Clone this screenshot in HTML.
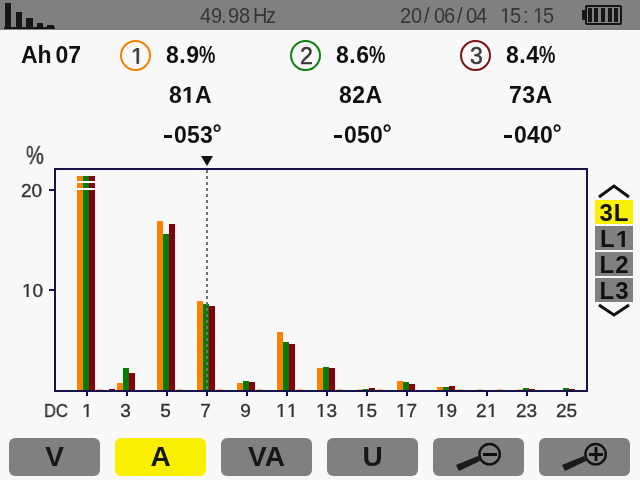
<!DOCTYPE html>
<html><head><meta charset="utf-8">
<style>
html,body{margin:0;padding:0;}
body{width:640px;height:480px;overflow:hidden;background:#f8f8f8;position:relative;font-family:"Liberation Sans",sans-serif;}
div{position:absolute;}
span{position:relative;}
.dg{top:-2px;left:-0.5px;}
.t{white-space:nowrap;line-height:1;will-change:transform;}
#top{left:0;top:0;width:640px;height:30px;background:#808080;}
.o1{display:inline-block;width:.556em;height:.688em;fill:currentColor;vertical-align:baseline;}
.cn .o1{stroke:#383838;stroke-width:45;}
.pc{display:inline-block;transform:scaleX(.8);transform-origin:0 0;}
.ib{background:#161616;}
.hz{font-size:20px;color:#363636;top:6px;transform:scaleY(1.07);transform-origin:0 17px;}
.bold{font-weight:bold;color:#111;}
.big{font-size:23px;letter-spacing:.5px;}
.circ{width:27px;height:27px;border-radius:50%;border:2.6px solid;top:40px;}
.cn{font-size:23px;color:#383838;top:45px;-webkit-text-stroke:.5px #383838;}
#frame{left:54px;top:168px;width:530px;height:220px;border:2px solid #16124a;background:#f8f8f8;}
.b{width:6px;}
.tk{width:2px;height:5px;top:391px;background:#16124a;margin-left:0;}
.xl{width:42px;text-align:center;top:400px;font-size:19px;color:#333;-webkit-text-stroke:.35px #333;}
.xl .o1,.yl .o1{stroke:#333;stroke-width:38;}
.yl{font-size:19px;color:#333;-webkit-text-stroke:.35px #333;}
.ytk{left:49px;width:5px;height:2px;background:#16124a;}
.side{left:595px;width:38px;height:24px;background:#808080;}
.st{font-size:24px;font-weight:bold;color:#111;width:38px;text-align:center;top:1px;letter-spacing:1px;text-indent:1px;}
.btn{top:438px;width:91px;height:38px;border-radius:6px;background:#808080;}
.bt{font-size:28px;font-weight:bold;color:#161616;width:91px;text-align:center;top:5px;}
</style></head><body>
<div id="top">
  <div class="ib" style="left:5px;top:3px;width:6px;height:25px"></div>
  <div class="ib" style="left:16px;top:12px;width:6px;height:16px"></div>
  <div class="ib" style="left:26px;top:18px;width:7px;height:10px"></div>
  <div class="ib" style="left:37px;top:23px;width:6px;height:5px"></div>
  <div class="ib" style="left:47px;top:25px;width:7px;height:3px"></div>
  <div class="ib" style="left:4px;top:27px;width:51px;height:2px"></div>
<div class="t hz" style="left:199.54px">4</div>
<div class="t hz" style="left:211.06px">9</div>
<div class="t hz" style="left:221.07px">.</div>
<div class="t hz" style="left:228.06px">9</div>
<div class="t hz" style="left:239.03px">8</div>
<div class="t hz" style="left:253.06px">H</div>
<div class="t hz" style="left:266.09px">z</div>
<div class="t hz" style="left:399.79px">2</div>
<div class="t hz" style="left:410.82px">0</div>
<div class="t hz" style="left:423.70px">/</div>
<div class="t hz" style="left:433.52px">0</div>
<div class="t hz" style="left:443.68px">6</div>
<div class="t hz" style="left:456.80px">/</div>
<div class="t hz" style="left:466.22px">0</div>
<div class="t hz" style="left:476.24px">4</div>
<div class="t hz" style="left:499.83px"><svg class="o1" viewBox="0 -1409 1139 1409"><path d="M515 0V-1237L197-1010V-1180L530-1409H696V0Z"/></svg></div>
<div class="t hz" style="left:509.90px">5</div>
<div class="t hz" style="left:522.87px">:</div>
<div class="t hz" style="left:533.08px"><svg class="o1" viewBox="0 -1409 1139 1409"><path d="M515 0V-1237L197-1010V-1180L530-1409H696V0Z"/></svg></div>
<div class="t hz" style="left:543.20px">5</div>
  <!-- battery -->
  <div style="left:582px;top:10px;width:3px;height:10px;background:#161616"></div>
  <div style="left:585px;top:5px;width:33px;height:16px;border:2px solid #161616;border-radius:2px"></div>
  <div class="ib" style="left:588px;top:8px;width:4px;height:14px"></div>
  <div class="ib" style="left:594px;top:8px;width:4px;height:14px"></div>
  <div class="ib" style="left:601px;top:8px;width:4px;height:14px"></div>
  <div class="ib" style="left:608px;top:8px;width:4px;height:14px"></div>
  <div class="ib" style="left:614px;top:8px;width:4px;height:14px"></div>
</div>

<div class="t bold big" style="left:21px;top:44px;letter-spacing:0;word-spacing:-2.5px">Ah 07</div>

<div class="circ" style="left:120px;border-color:#f08000"></div>
<div class="t cn" style="left:131px"><svg class="o1" viewBox="0 -1409 1139 1409"><path d="M515 0V-1237L197-1010V-1180L530-1409H696V0Z"/></svg></div>
<div class="t bold big" style="left:166px;top:44px">8.9<span class="pc">%</span></div>
<div class="t bold big" style="left:169px;top:84px">8<svg class="o1" viewBox="0 -1409 1139 1409"><path d="M478 0V-1170L140-959V-1180L493-1409H759V0Z"/></svg>A</div>
<div style="left:164px;top:135px;width:8px;height:3px;background:#111"></div>
<div class="t bold big" style="left:173.8px;top:124px;letter-spacing:.2px">053<span class="dg">°</span></div>

<div class="circ" style="left:290px;border-color:#108010"></div>
<div class="t cn" style="left:300px">2</div>
<div class="t bold big" style="left:336px;top:44px">8.6<span class="pc">%</span></div>
<div class="t bold big" style="left:339px;top:84px">82A</div>
<div style="left:334px;top:135px;width:8px;height:3px;background:#111"></div>
<div class="t bold big" style="left:343.8px;top:124px;letter-spacing:.2px">050<span class="dg">°</span></div>

<div class="circ" style="left:460px;border-color:#801010"></div>
<div class="t cn" style="left:470px">3</div>
<div class="t bold big" style="left:506px;top:44px">8.4<span class="pc">%</span></div>
<div class="t bold big" style="left:509px;top:84px">73A</div>
<div style="left:504px;top:135px;width:8px;height:3px;background:#111"></div>
<div class="t bold big" style="left:513.8px;top:124px;letter-spacing:.2px">040<span class="dg">°</span></div>

<div class="t yl" style="left:26px;top:143px;font-size:25px;transform:scaleX(.8);transform-origin:0 0">%</div>
<div class="t yl" style="left:21px;top:181px">20</div>
<div class="t yl" style="left:22px;top:281px"><svg class="o1" viewBox="0 -1409 1139 1409"><path d="M515 0V-1237L197-1010V-1180L530-1409H696V0Z"/></svg>0</div>
<div class="ytk" style="top:189px"></div>
<div class="ytk" style="top:289px"></div>
<div class="t yl" style="left:44px;top:401px;transform:scaleX(.87);transform-origin:0 0">DC</div>

<div id="frame"></div>
<div class="b" style="left:97px;top:389px;height:1px;background:#ff8000;opacity:.5"></div>
<div class="b" style="left:109px;top:389px;height:1px;background:#850008"></div>
<div class="b" style="left:117px;top:383px;height:7px;background:#ff8000"></div>
<div class="b" style="left:123px;top:368px;height:22px;background:#008000"></div>
<div class="b" style="left:129px;top:373px;height:17px;background:#850008"></div>
<div class="b" style="left:157px;top:221px;height:169px;background:#ff8000"></div>
<div class="b" style="left:163px;top:234px;height:156px;background:#008000"></div>
<div class="b" style="left:169px;top:224px;height:166px;background:#850008"></div>
<div class="b" style="left:177px;top:389px;height:1px;background:#ff8000;opacity:.5"></div>
<div class="b" style="left:197px;top:301px;height:89px;background:#ff8000"></div>
<div class="b" style="left:203px;top:304px;height:86px;background:#008000"></div>
<div class="b" style="left:209px;top:306px;height:84px;background:#850008"></div>
<div class="b" style="left:217px;top:389px;height:1px;background:#ff8000;opacity:.5"></div>
<div class="b" style="left:237px;top:383px;height:7px;background:#ff8000"></div>
<div class="b" style="left:243px;top:381px;height:9px;background:#008000"></div>
<div class="b" style="left:249px;top:382px;height:8px;background:#850008"></div>
<div class="b" style="left:257px;top:389px;height:1px;background:#ff8000;opacity:.5"></div>
<div class="b" style="left:277px;top:332px;height:58px;background:#ff8000"></div>
<div class="b" style="left:283px;top:342px;height:48px;background:#008000"></div>
<div class="b" style="left:289px;top:344px;height:46px;background:#850008"></div>
<div class="b" style="left:297px;top:389px;height:1px;background:#ff8000;opacity:.5"></div>
<div class="b" style="left:317px;top:368px;height:22px;background:#ff8000"></div>
<div class="b" style="left:323px;top:367px;height:23px;background:#008000"></div>
<div class="b" style="left:329px;top:368px;height:22px;background:#850008"></div>
<div class="b" style="left:337px;top:389px;height:1px;background:#ff8000;opacity:.5"></div>
<div class="b" style="left:357px;top:389px;height:1px;background:#ff8000;opacity:.5"></div>
<div class="b" style="left:363px;top:389px;height:1px;background:#008000"></div>
<div class="b" style="left:369px;top:388px;height:2px;background:#850008"></div>
<div class="b" style="left:377px;top:389px;height:1px;background:#ff8000;opacity:.5"></div>
<div class="b" style="left:397px;top:381px;height:9px;background:#ff8000"></div>
<div class="b" style="left:403px;top:382px;height:8px;background:#008000"></div>
<div class="b" style="left:409px;top:384px;height:6px;background:#850008"></div>
<div class="b" style="left:437px;top:387px;height:3px;background:#ff8000"></div>
<div class="b" style="left:443px;top:387px;height:3px;background:#008000"></div>
<div class="b" style="left:449px;top:386px;height:4px;background:#850008"></div>
<div class="b" style="left:457px;top:389px;height:1px;background:#ff8000;opacity:.5"></div>
<div class="b" style="left:477px;top:389px;height:1px;background:#ff8000;opacity:.5"></div>
<div class="b" style="left:497px;top:389px;height:1px;background:#ff8000;opacity:.5"></div>
<div class="b" style="left:517px;top:389px;height:1px;background:#ff8000;opacity:.5"></div>
<div class="b" style="left:523px;top:388px;height:2px;background:#008000"></div>
<div class="b" style="left:529px;top:389px;height:1px;background:#850008"></div>
<div class="b" style="left:563px;top:388px;height:2px;background:#008000"></div>
<div class="b" style="left:569px;top:389px;height:1px;background:#850008"></div>
<div class="b" style="left:77px;top:176px;height:214px;background:#ff8000"></div>
<div class="b" style="left:83px;top:176px;height:214px;background:#008000"></div>
<div class="b" style="left:89px;top:176px;height:214px;background:#850008"></div>
<div class="b" style="left:77px;top:181px;width:18px;height:2px;background:#fff"></div>
<div class="b" style="left:77px;top:188px;width:18px;height:2px;background:#fff"></div>
<div style="left:206px;top:170px;width:2px;height:220px;background:repeating-linear-gradient(to bottom,#727272 0,#727272 3px,transparent 3px,transparent 6px)"></div>
<svg style="position:absolute;left:0;top:0" width="640" height="480">
<polygon points="201,156 213,156 207,166" fill="#111"/>
<polyline points="599,197 614,186 629,197" fill="none" stroke="#111" stroke-width="3"/>
<polyline points="599,305 614,315 629,305" fill="none" stroke="#111" stroke-width="3"/>
</svg>
<div class="tk" style="left:86px"></div>
<div class="xl" style="left:66px"><svg class="o1" viewBox="0 -1409 1139 1409"><path d="M515 0V-1237L197-1010V-1180L530-1409H696V0Z"/></svg></div>
<div class="tk" style="left:126px"></div>
<div class="xl" style="left:104.5px">3</div>
<div class="tk" style="left:166px"></div>
<div class="xl" style="left:144.5px">5</div>
<div class="tk" style="left:206px"></div>
<div class="xl" style="left:184.5px">7</div>
<div class="tk" style="left:246px"></div>
<div class="xl" style="left:224.5px">9</div>
<div class="tk" style="left:286px"></div>
<div class="xl" style="left:265.5px"><svg class="o1" viewBox="0 -1409 1139 1409"><path d="M515 0V-1237L197-1010V-1180L530-1409H696V0Z"/></svg><svg class="o1" viewBox="0 -1409 1139 1409"><path d="M515 0V-1237L197-1010V-1180L530-1409H696V0Z"/></svg></div>
<div class="tk" style="left:326px"></div>
<div class="xl" style="left:305.5px"><svg class="o1" viewBox="0 -1409 1139 1409"><path d="M515 0V-1237L197-1010V-1180L530-1409H696V0Z"/></svg>3</div>
<div class="tk" style="left:366px"></div>
<div class="xl" style="left:345.5px"><svg class="o1" viewBox="0 -1409 1139 1409"><path d="M515 0V-1237L197-1010V-1180L530-1409H696V0Z"/></svg>5</div>
<div class="tk" style="left:406px"></div>
<div class="xl" style="left:385.5px"><svg class="o1" viewBox="0 -1409 1139 1409"><path d="M515 0V-1237L197-1010V-1180L530-1409H696V0Z"/></svg>7</div>
<div class="tk" style="left:446px"></div>
<div class="xl" style="left:425.5px"><svg class="o1" viewBox="0 -1409 1139 1409"><path d="M515 0V-1237L197-1010V-1180L530-1409H696V0Z"/></svg>9</div>
<div class="tk" style="left:486px"></div>
<div class="xl" style="left:465.5px">2<svg class="o1" viewBox="0 -1409 1139 1409"><path d="M515 0V-1237L197-1010V-1180L530-1409H696V0Z"/></svg></div>
<div class="tk" style="left:526px"></div>
<div class="xl" style="left:505.5px">23</div>
<div class="tk" style="left:566px"></div>
<div class="xl" style="left:545.5px">25</div>

<div class="side" style="top:200px;background:#f8f000"><div class="t st">3L</div></div>
<div class="side" style="top:226px"><div class="t st">L<svg class="o1" viewBox="0 -1409 1139 1409"><path d="M478 0V-1170L140-959V-1180L493-1409H759V0Z"/></svg></div></div>
<div class="side" style="top:252px"><div class="t st">L2</div></div>
<div class="side" style="top:278px"><div class="t st">L3</div></div>

<div class="btn" style="left:9px"><div class="t bt">V</div></div>
<div class="btn" style="left:115px;background:#f8f000"><div class="t bt">A</div></div>
<div class="btn" style="left:221px"><div class="t bt">VA</div></div>
<div class="btn" style="left:327px"><div class="t bt">U</div></div>
<div class="btn" style="left:433px"></div>
<div class="btn" style="left:539px"></div>
<svg style="position:absolute;left:0;top:0" width="640" height="480">
<g id="mag">
<polygon points="456,465 459,471 480,461 478,456" fill="#1a1a1a"/>
<circle cx="489.6" cy="454.2" r="10.2" fill="none" stroke="#111" stroke-width="2.4"/>
<rect x="483" y="453" width="14" height="3" fill="#111"/>
</g>
<polygon points="562,465 565,471 586,461 584,456" fill="#1a1a1a"/>
<circle cx="595.6" cy="454.2" r="10.2" fill="none" stroke="#111" stroke-width="2.4"/>
<rect x="589" y="453" width="14" height="3" fill="#111"/>
<rect x="594.5" y="447" width="3" height="14" fill="#111"/>
</svg>
</body></html>
